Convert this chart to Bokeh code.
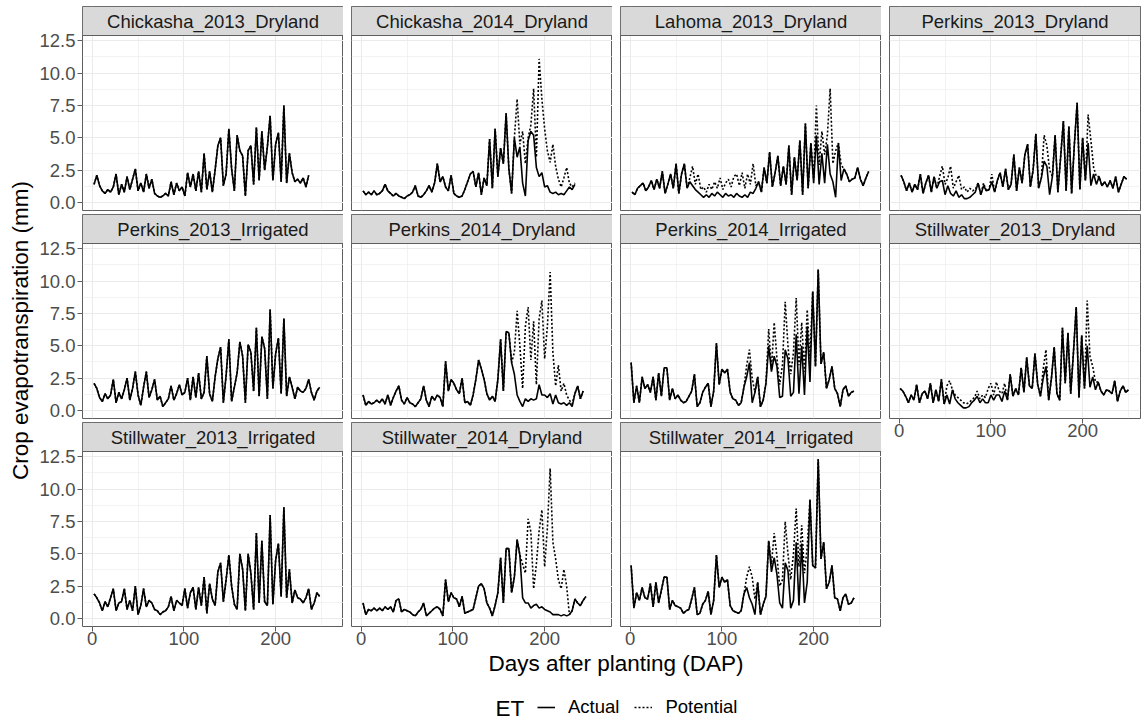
from math import pi

from bokeh.core.properties import value
from bokeh.embed import file_html
from bokeh.layouts import column, row
from bokeh.models import (BoxAnnotation, FixedTicker, Grid, Label, Legend, LegendItem,
                          LinearAxis, PrintfTickFormatter, Range1d)
from bokeh.plotting import figure
from bokeh.resources import INLINE

FONT = "Liberation Sans"

# ---------------------------------------------------------------------------
# Daily crop evapotranspiration (mm), one value every STEP days after planting
# ---------------------------------------------------------------------------
STEP = 3

chickasha_2013_dry_start = 2
chickasha_2013_dry_act = [1.4, 2.1, 1.3, 0.9, 0.7, 1.0, 0.8, 1.2, 2.2, 0.6, 1.4, 0.8, 2.0, 1.0, 1.8, 2.6, 0.9, 1.5, 0.8, 2.2,
                          1.1, 1.8, 0.7, 0.5, 0.4, 0.5, 0.7, 0.5, 1.6, 0.6, 1.5, 0.9, 1.2, 0.5, 2.3, 1.2, 2.2, 0.9, 2.4, 0.8,
                          3.8, 1.0, 2.4, 0.8, 2.5, 4.4, 5.0, 1.3, 2.2, 5.7, 2.6, 0.9, 5.2, 4.0, 3.6, 0.5, 4.0, 4.4, 1.4, 5.8,
                          1.7, 5.5, 2.5, 4.3, 6.7, 1.7, 4.5, 5.4, 1.6, 7.5, 1.5, 3.8, 2.3, 1.6, 1.8, 1.5, 1.9, 1.2, 2.1]
chickasha_2013_dry_pot = chickasha_2013_dry_act

chickasha_2014_dry_start = 2
chickasha_2014_dry_act = [0.9, 0.6, 0.8, 0.6, 0.9, 0.6, 0.7, 0.9, 1.4, 0.9, 0.7, 0.5, 0.7, 0.5, 0.4, 0.3, 0.5, 0.6, 0.8, 1.3,
                          0.5, 0.4, 0.6, 0.9, 1.3, 0.8, 1.5, 3.0, 1.6, 2.0, 1.2, 0.9, 2.1, 0.7, 0.5, 0.4, 0.5, 1.0, 1.6, 2.2,
                          2.4, 1.2, 2.3, 0.6, 1.9, 1.3, 4.9, 1.1, 5.7, 2.0, 4.2, 3.0, 6.9, 2.6, 0.7, 5.0, 3.5, 4.3, 1.5, 0.5,
                          4.8, 5.5, 5.2, 2.7, 2.0, 2.3, 1.2, 1.3, 0.8, 0.7, 0.8, 0.6, 0.7, 0.6, 0.9, 1.2, 1.0, 1.4]
chickasha_2014_dry_pot = [0.9, 0.6, 0.8, 0.6, 0.9, 0.6, 0.7, 0.9, 1.4, 0.9, 0.7, 0.5, 0.7, 0.5, 0.4, 0.3, 0.5, 0.6, 0.8, 1.3,
                          0.5, 0.4, 0.6, 0.9, 1.3, 0.8, 1.5, 3.0, 1.6, 2.0, 1.2, 0.9, 2.1, 0.7, 0.5, 0.4, 0.5, 1.0, 1.6, 2.2,
                          2.4, 1.2, 2.3, 0.6, 1.9, 1.3, 4.9, 1.1, 5.7, 2.0, 4.2, 3.0, 6.9, 2.6, 0.7, 5.0, 8.0, 4.5, 5.5, 3.0,
                          5.0, 6.0, 8.8, 3.5, 11.1, 8.0, 5.7, 4.0, 3.1, 4.5, 2.8, 1.8, 1.2, 1.9, 2.7, 1.5, 1.2, 1.5]

lahoma_2013_dry_start = 2
lahoma_2013_dry_act = [0.8, 0.6, 1.1, 1.3, 1.5, 0.9, 1.2, 1.7, 1.0, 1.8, 1.1, 2.4, 0.7, 1.4, 2.2, 1.1, 3.0, 0.7, 2.2, 3.0,
                       1.1, 1.6, 1.3, 1.0, 0.8, 0.6, 0.4, 0.6, 0.4, 0.7, 0.5, 0.8, 0.6, 0.4, 0.7, 0.5, 0.6, 0.4, 0.7, 0.5,
                       0.4, 0.6, 0.4, 0.8, 0.7, 1.1, 1.6, 0.8, 2.7, 1.5, 3.9, 1.2, 2.3, 3.6, 1.3, 2.8, 1.4, 4.4, 0.6, 3.5,
                       1.7, 4.8, 0.6, 6.1, 1.1, 4.6, 1.5, 5.2, 1.4, 3.8, 1.5, 4.5, 2.2, 1.6, 0.4, 4.6, 1.7, 2.6, 2.2, 1.6,
                       1.8, 1.9, 2.7, 1.8, 1.3, 1.9, 2.4]
lahoma_2013_dry_pot = [0.8, 0.6, 1.1, 1.3, 1.5, 0.9, 1.2, 1.7, 1.0, 1.8, 1.1, 2.4, 0.7, 1.4, 2.2, 1.1, 3.0, 0.7, 2.2, 3.0,
                       1.1, 1.9, 2.8, 1.4, 2.2, 1.0, 1.2, 0.8, 1.4, 1.0, 1.6, 1.1, 1.9, 1.0, 1.5, 1.8, 1.2, 2.0, 2.2, 1.3,
                       2.3, 1.1, 2.2, 1.4, 3.0, 1.3, 1.6, 0.8, 2.7, 1.5, 3.9, 1.2, 2.3, 3.6, 1.3, 2.8, 1.4, 4.4, 0.6, 3.5,
                       1.7, 4.8, 0.6, 6.1, 1.1, 4.6, 1.8, 7.5, 2.9, 5.5, 3.7, 5.2, 8.8, 3.0, 4.0, 4.6, 2.9, 2.6, 2.2, 1.6,
                       1.8, 1.9, 2.7, 1.8, 1.3, 1.9, 2.4]

perkins_2013_dry_start = 2
perkins_2013_dry_act = [2.1, 1.6, 0.9, 1.5, 0.8, 1.4, 1.0, 2.2, 0.7, 1.5, 2.1, 0.8, 2.0, 1.1, 1.6, 1.7, 0.6, 1.3, 0.7, 0.5,
                        0.9, 0.4, 0.6, 0.3, 0.3, 0.4, 0.6, 0.8, 1.5, 0.6, 1.3, 0.9, 1.0, 1.6, 0.8, 1.7, 2.3, 1.2, 2.6, 1.0,
                        1.4, 3.7, 0.9, 2.7, 1.5, 3.7, 4.5, 1.2, 2.5, 5.3, 1.1, 1.9, 3.2, 2.8, 0.6, 2.0, 5.2, 0.8, 3.5, 6.3,
                        0.9, 5.9, 0.7, 4.5, 7.7, 1.0, 5.0, 1.7, 4.6, 1.3, 2.2, 1.4, 2.0, 1.3, 1.6, 1.2, 1.7, 1.1, 2.0, 0.8,
                        1.4, 2.0, 1.8]
perkins_2013_dry_pot = [2.1, 1.6, 0.9, 1.5, 0.8, 1.4, 1.0, 2.2, 0.7, 1.5, 2.1, 0.8, 2.0, 1.1, 2.0, 2.8, 1.4, 1.9, 2.8, 1.1,
                        1.6, 2.1, 1.0, 1.2, 0.8, 1.1, 0.9, 1.0, 1.5, 0.6, 1.5, 0.9, 1.0, 2.2, 0.8, 1.7, 2.3, 1.2, 2.6, 1.0,
                        1.4, 3.7, 0.9, 2.7, 1.5, 3.7, 4.5, 1.2, 2.5, 5.3, 1.1, 1.9, 5.2, 4.4, 2.5, 2.0, 5.2, 0.8, 3.5, 6.3,
                        0.9, 5.9, 0.7, 4.5, 7.7, 1.0, 5.0, 1.7, 6.8, 4.8, 2.7, 2.0, 2.0, 1.3, 1.6, 1.2, 1.7, 1.1, 2.0, 0.8,
                        1.4, 2.0, 1.8]

perkins_2013_irr_start = 2
perkins_2013_irr_act = [2.1, 1.7, 1.0, 0.7, 1.3, 0.9, 1.2, 2.4, 0.6, 1.4, 0.9, 1.6, 2.5, 0.8, 1.7, 3.0, 1.2, 0.4, 1.8, 3.0,
                        1.0, 1.6, 2.4, 0.8, 1.1, 0.3, 0.6, 0.9, 1.9, 0.8, 1.3, 2.0, 1.2, 1.4, 2.5, 0.8, 2.6, 1.0, 2.9, 0.9,
                        1.4, 4.2, 1.3, 0.7, 2.6, 4.0, 4.9, 0.6, 2.7, 5.5, 0.7, 1.8, 2.9, 5.3, 4.2, 0.6, 5.1, 4.5, 1.5, 6.4,
                        1.1, 5.7, 4.8, 0.9, 7.8, 1.7, 4.4, 5.6, 1.3, 7.1, 1.1, 2.6, 1.8, 0.9, 1.8, 1.5, 1.4, 1.7, 2.4, 1.4,
                        0.8, 1.5, 1.8]
perkins_2013_irr_pot = perkins_2013_irr_act

perkins_2014_dry_start = 2
perkins_2014_dry_act = [1.2, 0.4, 0.7, 0.5, 0.6, 0.8, 0.6, 0.9, 0.5, 1.2, 0.4, 1.0, 1.5, 1.9, 0.8, 0.5, 1.0, 0.6, 0.5, 0.3,
                        0.6, 0.9, 1.9, 0.8, 0.3, 1.1, 0.8, 1.2, 1.0, 0.3, 3.8, 1.5, 2.4, 2.1, 1.6, 1.3, 2.5, 0.6, 0.7, 0.4,
                        1.2, 2.4, 3.9, 3.2, 2.4, 1.3, 0.8, 1.1, 0.7, 2.4, 5.5, 1.5, 6.1, 6.0, 3.7, 2.8, 1.2, 0.7, 0.3, 0.9,
                        0.7, 0.9, 0.8, 0.9, 2.0, 1.2, 1.2, 1.0, 1.3, 0.5, 1.2, 0.6, 0.5, 0.6, 0.4, 0.6, 0.3, 1.3, 1.9, 0.9,
                        1.5]
perkins_2014_dry_pot = [1.2, 0.4, 0.7, 0.5, 0.6, 0.8, 0.6, 0.9, 0.5, 1.2, 0.4, 1.0, 1.5, 1.9, 0.8, 0.5, 1.0, 0.6, 0.5, 0.3,
                        0.6, 0.9, 1.9, 0.8, 0.3, 1.1, 0.8, 1.2, 1.0, 0.3, 3.8, 1.5, 2.4, 2.1, 1.6, 1.3, 2.5, 0.6, 0.7, 0.4,
                        1.2, 2.4, 3.9, 3.2, 2.4, 1.3, 0.8, 1.1, 0.7, 2.4, 5.5, 1.5, 6.1, 6.0, 3.7, 4.5, 7.7, 5.0, 1.7, 6.5,
                        8.0, 3.9, 6.9, 2.0, 7.1, 8.5, 4.0, 6.5, 10.7, 4.5, 1.9, 3.5, 1.5, 2.1, 1.2, 0.8, 0.5, 1.3, 1.9, 0.9,
                        1.5]

perkins_2014_irr_start = 1
perkins_2014_irr_act = [3.7, 0.6, 1.9, 0.6, 2.6, 1.7, 2.0, 1.4, 2.6, 0.8, 2.9, 1.1, 3.3, 3.3, 0.8, 1.7, 0.9, 1.2, 0.8, 0.6,
                        0.7, 1.1, 1.5, 2.8, 0.3, 0.6, 1.4, 1.8, 2.1, 0.3, 1.5, 5.2, 2.0, 3.2, 2.9, 3.2, 1.4, 0.9, 0.8, 0.4,
                        0.6, 1.8, 2.6, 3.7, 0.6, 1.4, 2.6, 0.3, 0.8, 2.1, 5.0, 3.0, 4.2, 3.4, 1.0, 1.1, 4.7, 4.0, 1.1, 1.4,
                        5.9, 1.3, 5.0, 1.2, 6.5, 2.2, 9.2, 3.4, 10.9, 3.6, 4.5, 1.7, 2.4, 3.4, 1.7, 1.3, 0.3, 1.6, 1.9, 1.1,
                        1.4, 1.5]
perkins_2014_irr_pot = [3.7, 0.6, 1.9, 0.6, 2.6, 1.7, 2.0, 1.4, 2.6, 0.8, 2.9, 1.1, 3.3, 3.3, 0.8, 1.7, 0.9, 1.2, 0.8, 0.6,
                        0.7, 1.1, 1.5, 2.8, 0.3, 0.6, 1.4, 1.8, 2.1, 0.3, 1.5, 5.2, 2.0, 3.2, 2.9, 3.2, 1.4, 0.9, 0.8, 0.4,
                        0.6, 1.8, 3.5, 4.7, 2.5, 1.4, 2.6, 0.3, 0.8, 2.1, 6.3, 3.2, 6.8, 4.0, 2.0, 3.5, 8.4, 5.0, 2.8, 4.5,
                        8.7, 3.5, 6.8, 3.0, 7.8, 4.0, 9.2, 3.4, 10.9, 3.6, 4.5, 1.7, 2.4, 3.4, 1.7, 1.3, 0.3, 1.6, 1.9, 1.1,
                        1.4, 1.5]

stillwater_2013_dry_start = 1
stillwater_2013_dry_act = [1.7, 1.5, 1.1, 0.6, 1.2, 0.8, 2.0, 0.6, 1.3, 1.5, 0.9, 2.1, 0.6, 1.6, 0.7, 2.4, 0.5, 1.2, 0.5, 1.6,
                           0.9, 0.6, 0.4, 0.2, 0.2, 0.3, 0.6, 0.8, 1.1, 0.6, 0.9, 0.6, 0.6, 1.2, 0.8, 1.2, 1.2, 0.7, 1.5, 0.8,
                           2.8, 1.1, 1.7, 1.2, 3.3, 1.4, 4.1, 1.9, 1.7, 4.4, 2.0, 1.1, 2.5, 3.4, 0.8, 2.5, 4.9, 1.3, 0.8, 6.4,
                           2.1, 6.0, 1.3, 4.5, 8.0, 1.0, 5.8, 1.7, 5.0, 1.8, 2.6, 1.6, 2.2, 1.5, 1.2, 1.6, 1.5, 1.3, 2.3, 0.7,
                           1.5, 1.9, 1.4, 1.6]
stillwater_2013_dry_pot = [1.7, 1.5, 1.1, 0.6, 1.2, 0.8, 2.0, 0.6, 1.3, 1.5, 0.9, 2.1, 0.6, 1.6, 0.7, 2.4, 0.5, 1.9, 2.3, 1.6,
                           1.2, 1.0, 0.8, 0.6, 0.5, 0.6, 0.8, 1.0, 1.5, 0.9, 1.2, 1.0, 1.7, 2.1, 1.2, 2.2, 1.5, 1.3, 2.1, 0.8,
                           2.8, 1.1, 1.7, 1.2, 3.3, 1.4, 4.1, 1.9, 1.7, 4.4, 2.0, 1.1, 3.2, 4.7, 0.8, 2.5, 4.9, 1.3, 0.8, 6.4,
                           2.1, 6.0, 1.3, 4.5, 8.0, 1.0, 5.8, 1.7, 8.5, 4.2, 3.4, 2.2, 2.2, 1.5, 1.2, 1.6, 1.5, 1.3, 2.3, 0.7,
                           1.5, 1.9, 1.4, 1.6]

stillwater_2013_irr_start = 2
stillwater_2013_irr_act = [1.9, 1.6, 1.2, 0.6, 1.3, 0.9, 1.6, 2.3, 0.6, 1.2, 1.3, 2.3, 0.7, 1.4, 0.6, 2.5, 0.3, 1.0, 2.3, 0.9,
                           1.4, 1.2, 0.7, 0.6, 0.3, 0.5, 0.6, 0.9, 1.7, 0.6, 1.4, 1.2, 1.0, 2.3, 0.8, 2.0, 2.4, 0.7, 2.4, 1.0,
                           3.2, 0.4, 2.7, 1.5, 1.0, 3.6, 4.3, 1.3, 3.0, 4.9, 2.5, 1.1, 0.7, 5.0, 3.8, 0.6, 5.0, 3.5, 0.7, 6.6,
                           1.2, 6.0, 1.3, 1.0, 8.0, 1.1, 4.5, 5.8, 1.7, 8.6, 1.6, 3.8, 1.2, 2.2, 1.6, 1.5, 1.2, 1.6, 2.3, 0.7,
                           1.2, 2.0, 1.7]
stillwater_2013_irr_pot = stillwater_2013_irr_act

stillwater_2014_dry_start = 2
stillwater_2014_dry_act = [1.2, 0.3, 0.7, 0.6, 0.8, 0.6, 0.8, 0.6, 0.9, 0.7, 0.9, 0.5, 1.4, 1.5, 0.5, 0.7, 0.6, 0.5, 0.3, 0.2,
                           0.5, 0.7, 1.2, 0.2, 0.4, 0.6, 0.8, 0.9, 0.7, 0.2, 3.0, 1.3, 2.0, 1.6, 1.5, 0.9, 1.7, 0.4, 0.5, 0.6,
                           0.7, 1.6, 2.5, 2.7, 2.3, 1.2, 0.8, 0.2, 1.0, 2.0, 4.7, 1.2, 5.4, 5.4, 2.0, 3.2, 6.1, 4.9, 1.6, 1.2,
                           1.2, 0.8, 1.0, 1.1, 0.8, 0.9, 0.7, 0.6, 0.5, 0.3, 0.3, 0.3, 0.2, 0.3, 0.2, 0.3, 0.6, 1.5, 1.2, 1.0,
                           1.4, 1.7]
stillwater_2014_dry_pot = [1.2, 0.3, 0.7, 0.6, 0.8, 0.6, 0.8, 0.6, 0.9, 0.7, 0.9, 0.5, 1.4, 1.5, 0.5, 0.7, 0.6, 0.5, 0.3, 0.2,
                           0.5, 0.7, 1.2, 0.2, 0.4, 0.6, 0.8, 0.9, 0.7, 0.2, 3.0, 1.3, 2.0, 1.6, 1.5, 0.9, 1.7, 0.4, 0.5, 0.6,
                           0.7, 1.6, 2.5, 2.7, 2.3, 1.2, 0.8, 0.2, 1.0, 2.0, 4.7, 1.2, 5.4, 5.4, 2.0, 3.2, 6.1, 4.9, 4.2, 3.5,
                           7.7, 6.7, 2.3, 4.2, 6.8, 8.4, 4.0, 7.0, 11.6, 5.9, 4.6, 3.0, 2.3, 3.8, 2.5, 0.3, 0.6, 1.5, 1.2, 1.0,
                           1.4, 1.7]

stillwater_2014_irr_start = 1
stillwater_2014_irr_act = [4.1, 0.8, 2.0, 1.4, 2.4, 1.6, 1.5, 2.7, 0.9, 2.8, 1.2, 2.2, 3.2, 3.2, 0.7, 1.4, 1.0, 0.9, 0.8, 0.4,
                           0.6, 0.7, 1.5, 2.4, 0.3, 0.4, 1.1, 1.4, 2.1, 0.3, 1.4, 4.9, 2.4, 3.2, 2.8, 3.0, 1.0, 0.6, 0.5, 0.4,
                           0.6, 1.9, 2.4, 1.6, 1.1, 0.3, 2.8, 0.3, 1.1, 1.7, 6.0, 3.6, 4.7, 3.4, 1.2, 0.8, 4.3, 3.7, 0.8, 1.4,
                           5.9, 1.0, 5.8, 1.2, 2.8, 9.2, 4.1, 3.9, 12.3, 4.6, 5.9, 2.3, 2.8, 4.1, 1.6, 1.5, 0.6, 1.6, 1.9, 1.1,
                           1.2, 1.6]
stillwater_2014_irr_pot = [4.1, 0.8, 2.0, 1.4, 2.4, 1.6, 1.5, 2.7, 0.9, 2.8, 1.2, 2.2, 3.2, 3.2, 0.7, 1.4, 1.0, 0.9, 0.8, 0.4,
                           0.6, 0.7, 1.5, 2.4, 0.3, 0.4, 1.1, 1.4, 2.1, 0.3, 1.4, 4.9, 2.4, 3.2, 2.8, 3.0, 1.0, 0.6, 0.5, 0.4,
                           0.6, 1.9, 3.2, 4.0, 3.2, 1.5, 2.8, 0.3, 1.1, 1.7, 6.0, 4.2, 6.6, 4.8, 2.5, 3.0, 7.5, 5.0, 3.0, 5.0,
                           8.5, 4.0, 7.2, 3.5, 5.5, 9.2, 4.1, 3.9, 12.3, 4.6, 5.9, 2.3, 2.8, 4.1, 1.6, 1.5, 0.6, 1.6, 1.9, 1.1,
                           1.2, 1.6]

panel_names = ["Chickasha_2013_Dryland", "Chickasha_2014_Dryland", "Lahoma_2013_Dryland", "Perkins_2013_Dryland",
               "Perkins_2013_Irrigated", "Perkins_2014_Dryland", "Perkins_2014_Irrigated", "Stillwater_2013_Dryland",
               "Stillwater_2013_Irrigated", "Stillwater_2014_Dryland", "Stillwater_2014_Irrigated"]
panel_starts = [chickasha_2013_dry_start, chickasha_2014_dry_start, lahoma_2013_dry_start, perkins_2013_dry_start,
                perkins_2013_irr_start, perkins_2014_dry_start, perkins_2014_irr_start, stillwater_2013_dry_start,
                stillwater_2013_irr_start, stillwater_2014_dry_start, stillwater_2014_irr_start]
panel_actual = [chickasha_2013_dry_act, chickasha_2014_dry_act, lahoma_2013_dry_act, perkins_2013_dry_act,
                perkins_2013_irr_act, perkins_2014_dry_act, perkins_2014_irr_act, stillwater_2013_dry_act,
                stillwater_2013_irr_act, stillwater_2014_dry_act, stillwater_2014_irr_act]
panel_potential = [chickasha_2013_dry_pot, chickasha_2014_dry_pot, lahoma_2013_dry_pot, perkins_2013_dry_pot,
                   perkins_2013_irr_pot, perkins_2014_dry_pot, perkins_2014_irr_pot, stillwater_2013_dry_pot,
                   stillwater_2013_irr_pot, stillwater_2014_dry_pot, stillwater_2014_irr_pot]

x_ticks = [0, 100, 200]
x_minor = [50, 150, 250]
y_ticks = [0.0, 2.5, 5.0, 7.5, 10.0, 12.5]
y_minor = [1.25, 3.75, 6.25, 8.75, 11.25]

legend_title = "ET"
legend_labels = ["Actual", "Potential"]

# ---------------------------------------------------------------------------
# Facet geometry and styling
# ---------------------------------------------------------------------------
NCOL = 4
FRAME_W, FRAME_W_LAST = 261, 251
PANEL_H, STRIP_H = 175, 29
X_START, X_END, X_END_LAST = -10.6, 274.0, 263.1
Y_START, Y_END = -0.62, 12.91
PX_PER_MM = PANEL_H / (Y_END - Y_START)
Y_TOP = Y_END + STRIP_H / PX_PER_MM          # strip sits above the panel inside the frame
YLAB_W = 35
GRID_H = 648
PAGE_W, PAGE_H = 1143, 721

LINE_W = 1.6
DOT = "2 2"
BORDER = "#5E5E5E"
GRID_COL = "#EBEBEB"
SMALL = "18.5px"
LARGE = "22.5px"


def days_for(start, values):
    return [start + STEP * i for i in range(len(values))]


def base_fig(width, height, xr, yr, left, right, top, bottom):
    f = figure(width=width, height=height, x_range=xr, y_range=yr,
               x_axis_location=None, y_axis_location=None,
               toolbar_location=None, output_backend="svg",
               min_border_left=left, min_border_right=right,
               min_border_top=top, min_border_bottom=bottom)
    f.grid.visible = False
    f.background_fill_color = "white"
    f.border_fill_color = "white"
    f.outline_line_color = None
    return f


def style_axis(ax):
    ax.axis_line_color = None
    ax.major_tick_line_color = BORDER
    ax.major_tick_line_width = 1
    ax.major_tick_out = 5
    ax.major_tick_in = 0
    ax.minor_tick_line_color = None
    ax.major_label_text_font = FONT
    ax.major_label_text_font_size = SMALL
    ax.major_label_text_color = "#4D4D4D"


def panel(k, left, right, top, bottom, frame_w, x_end, show_x, show_y):
    p = base_fig(left + frame_w + right, top + PANEL_H + STRIP_H + bottom,
                 Range1d(X_START, x_end), Range1d(Y_START, Y_TOP), left, right, top, bottom)
    p.outline_line_color = BORDER
    p.outline_line_width = 1
    xt = FixedTicker(ticks=x_ticks, minor_ticks=x_minor)
    yt = FixedTicker(ticks=y_ticks, minor_ticks=y_minor)
    for dim, tk in ((0, xt), (1, yt)):
        p.add_layout(Grid(dimension=dim, ticker=tk, grid_line_color=GRID_COL, grid_line_width=1.1,
                          minor_grid_line_color=GRID_COL, minor_grid_line_width=0.6))
    if show_x:
        ax = LinearAxis(ticker=xt)
        style_axis(ax)
        ax.major_label_standoff = 0
        p.add_layout(ax, "below")
    if show_y:
        ay = LinearAxis(ticker=yt, formatter=PrintfTickFormatter(format="%.1f"))
        style_axis(ay)
        ay.major_label_standoff = 2
        p.add_layout(ay, "left")

    start = panel_starts[k]
    act = panel_actual[k]
    pot = panel_potential[k]
    p.line(days_for(start, act), act, line_color="black", line_width=LINE_W)
    p.line(days_for(start, pot), pot, line_color="black", line_width=LINE_W, line_dash=DOT)

    # facet strip with its label
    p.add_layout(BoxAnnotation(bottom=Y_END, fill_color="#D9D9D9", fill_alpha=1.0,
                               line_color=BORDER, line_width=1, line_alpha=1.0))
    p.add_layout(Label(x=(X_START + x_end) / 2, y=(Y_END + Y_TOP) / 2, text=panel_names[k],
                       text_align="center", text_baseline="middle", text_font=FONT,
                       text_font_size=SMALL, text_color="#1A1A1A"))
    return p


n = len(panel_names)
columns = []
for c in range(NCOL):
    left = 47 if c == 0 else 8
    right = 3 if c == NCOL - 1 else 0
    fw = FRAME_W_LAST if c == NCOL - 1 else FRAME_W
    xe = X_END_LAST if c == NCOL - 1 else X_END
    items = []
    r = 0
    k = c
    while k < n:
        last = k + NCOL >= n
        items.append(panel(k, left, right, 6 if r == 0 else 2, 22 if last else 2, fw, xe, last, c == 0))
        r += 1
        k += NCOL
    columns.append(column(*items))

# shared y-axis title
ylab = base_fig(YLAB_W, GRID_H, Range1d(0, YLAB_W), Range1d(0, GRID_H), 0, 0, 0, 0)
ylab.add_layout(Label(x=20, y=GRID_H - 330, text="Crop evapotranspiration (mm)", angle=pi / 2,
                      text_align="center", text_baseline="middle", text_font=FONT,
                      text_font_size=LARGE, text_color="black"))

# shared x-axis title and linetype legend
foot_h = PAGE_H - GRID_H
foot = base_fig(PAGE_W, foot_h, Range1d(0, PAGE_W), Range1d(0, foot_h), 0, 0, 0, 0)
foot.add_layout(Label(x=615.5, y=foot_h - 15, text="Days after planting (DAP)", text_align="center",
                      text_baseline="middle", text_font=FONT, text_font_size=LARGE, text_color="black"))
foot.add_layout(Label(x=495, y=13, text=legend_title, text_align="left", text_baseline="middle",
                      text_font=FONT, text_font_size=LARGE, text_color="black"))
key_act = foot.line(days_for(panel_starts[0], panel_actual[0]), panel_actual[0],
                    line_color="black", line_width=LINE_W, visible=False)
key_pot = foot.line(days_for(panel_starts[0], panel_potential[0]), panel_potential[0],
                    line_color="black", line_width=LINE_W, line_dash=DOT, visible=False)
legend = Legend(items=[LegendItem(label=legend_labels[0], renderers=[key_act]),
                       LegendItem(label=legend_labels[1], renderers=[key_pot])],
                orientation="horizontal", location=(537, 3), glyph_width=18, glyph_height=20,
                label_height=20, label_standoff=13, spacing=15, padding=0, margin=0,
                border_line_color=None, background_fill_alpha=0,
                label_text_font=FONT, label_text_font_size=SMALL, label_text_color="black")
foot.add_layout(legend)

page = column(row(ylab, *columns), foot)

with open("out.html", "w") as fh:
    fh.write(file_html(page, INLINE, title="Crop evapotranspiration"))
